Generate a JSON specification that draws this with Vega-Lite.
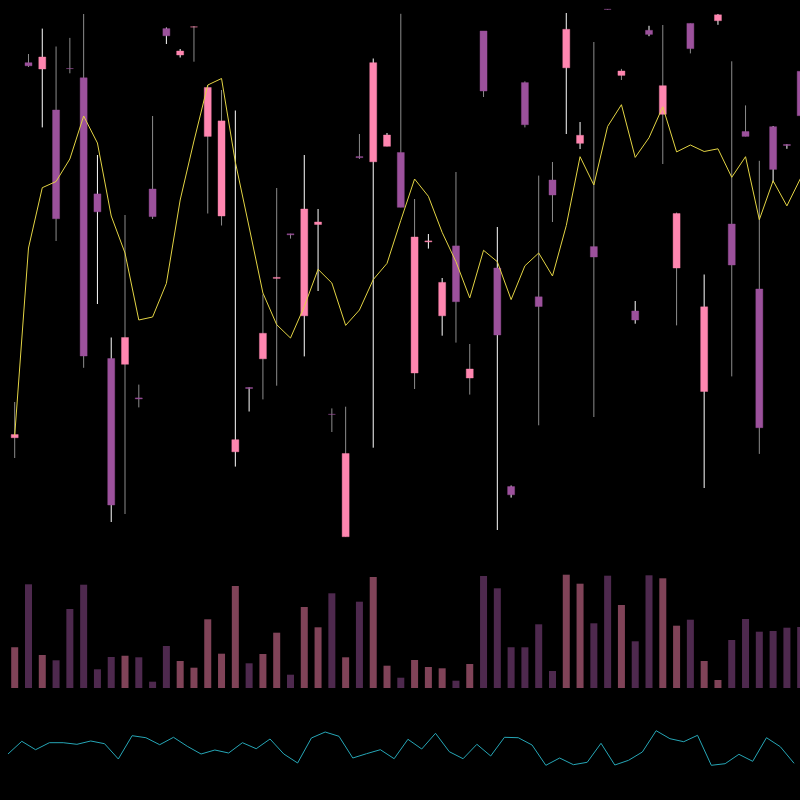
{
  "$schema": "https://vega.github.io/schema/vega-lite/v6.json",
  "background": "#000000",
  "padding": 0,
  "spacing": 0,
  "config": {"view": {"stroke": null}},
  "datasets": {
    "bars": [
      {"i":1,"date":"2021-11-23","open":106.23,"high":109.8,"low":104.2,"close":106.54,"ma":106.44,"volume":407000,"osc":41.07},
      {"i":2,"date":"2021-11-24","open":143.73,"high":144.6,"low":143.3,"close":143.42,"ma":125.2,"volume":1037000,"osc":52.41},
      {"i":3,"date":"2021-11-26","open":143.1,"high":147.14,"low":137.26,"close":144.3,"ma":131.23,"volume":330000,"osc":44.91},
      {"i":4,"date":"2021-11-29","open":139.0,"high":145.35,"low":125.9,"close":128.13,"ma":131.85,"volume":277000,"osc":51.16},
      {"i":5,"date":"2021-11-30","open":143.15,"high":146.21,"low":142.67,"close":143.14,"ma":134.1,"volume":790000,"osc":51.16},
      {"i":6,"date":"2021-12-01","open":142.22,"high":148.6,"low":113.22,"close":114.4,"ma":138.4,"volume":1033000,"osc":49.73},
      {"i":7,"date":"2021-12-02","open":130.61,"high":134.5,"low":119.6,"close":128.82,"ma":135.7,"volume":187000,"osc":52.68},
      {"i":8,"date":"2021-12-03","open":114.15,"high":116.25,"low":97.8,"close":99.5,"ma":128.4,"volume":310000,"osc":50.27},
      {"i":9,"date":"2021-12-06","open":113.57,"high":128.5,"low":98.6,"close":116.25,"ma":124.7,"volume":323000,"osc":36.61},
      {"i":10,"date":"2021-12-07","open":110.21,"high":111.54,"low":109.26,"close":110.11,"ma":118.0,"volume":307000,"osc":57.41},
      {"i":11,"date":"2021-12-08","open":131.1,"high":138.4,"low":128.1,"close":128.34,"ma":118.3,"volume":63000,"osc":55.62},
      {"i":12,"date":"2021-12-09","open":147.14,"high":147.25,"low":145.6,"close":146.42,"ma":121.66,"volume":420000,"osc":49.37},
      {"i":13,"date":"2021-12-10","open":144.5,"high":145.1,"low":144.25,"close":144.9,"ma":130.0,"volume":270000,"osc":55.98},
      {"i":14,"date":"2021-12-13","open":147.3,"high":147.4,"low":143.83,"close":147.31,"ma":135.9,"volume":203000,"osc":47.95},
      {"i":15,"date":"2021-12-14","open":136.36,"high":141.5,"low":128.65,"close":141.25,"ma":141.5,"volume":687000,"osc":41.07},
      {"i":16,"date":"2021-12-15","open":128.4,"high":141.0,"low":127.45,"close":137.91,"ma":142.15,"volume":343000,"osc":44.64},
      {"i":17,"date":"2021-12-16","open":104.82,"high":138.95,"low":103.34,"close":106.03,"ma":133.8,"volume":1020000,"osc":41.96},
      {"i":18,"date":"2021-12-17","open":111.25,"high":111.26,"low":108.85,"close":111.15,"ma":127.3,"volume":247000,"osc":51.16},
      {"i":19,"date":"2021-12-20","open":114.12,"high":120.56,"low":110.06,"close":116.67,"ma":120.7,"volume":340000,"osc":45.8},
      {"i":20,"date":"2021-12-21","open":122.16,"high":131.2,"low":111.43,"close":122.26,"ma":117.53,"volume":553000,"osc":54.46},
      {"i":21,"date":"2021-12-22","open":126.62,"high":126.63,"low":126.14,"close":126.52,"ma":116.2,"volume":133000,"osc":41.07},
      {"i":22,"date":"2021-12-23","open":118.42,"high":134.5,"low":114.36,"close":129.1,"ma":119.35,"volume":810000,"osc":33.04},
      {"i":23,"date":"2021-12-24","open":127.55,"high":129.1,"low":120.9,"close":127.8,"ma":123.07,"volume":607000,"osc":55.36},
      {"i":24,"date":"2021-12-27","open":108.57,"high":109.16,"low":106.8,"close":108.56,"ma":121.7,"volume":947000,"osc":60.71},
      {"i":25,"date":"2021-12-28","open":96.33,"high":109.33,"low":96.33,"close":104.65,"ma":117.46,"volume":307000,"osc":56.87},
      {"i":26,"date":"2021-12-29","open":134.34,"high":136.6,"low":134.1,"close":134.24,"ma":119.0,"volume":863000,"osc":37.5},
      {"i":27,"date":"2021-12-30","open":133.82,"high":144.15,"low":105.23,"close":143.73,"ma":122.04,"volume":1110000,"osc":41.34},
      {"i":28,"date":"2021-12-31","open":135.37,"high":136.7,"low":135.37,"close":136.5,"ma":123.66,"volume":223000,"osc":44.91},
      {"i":29,"date":"2022-01-03","open":134.75,"high":148.62,"low":129.27,"close":129.27,"ma":127.96,"volume":103000,"osc":36.87},
      {"i":30,"date":"2022-01-04","open":112.7,"high":130.1,"low":111.1,"close":126.3,"ma":132.1,"volume":280000,"osc":54.2},
      {"i":31,"date":"2022-01-06","open":125.81,"high":126.6,"low":125.14,"close":125.91,"ma":130.37,"volume":210000,"osc":45.54},
      {"i":32,"date":"2022-01-07","open":118.42,"high":122.2,"low":116.43,"close":121.76,"ma":126.76,"volume":197000,"osc":59.55},
      {"i":33,"date":"2022-01-10","open":125.41,"high":132.8,"low":115.74,"close":119.83,"ma":123.83,"volume":73000,"osc":43.12},
      {"i":34,"date":"2022-01-11","open":112.2,"high":115.6,"low":110.54,"close":113.1,"ma":120.21,"volume":240000,"osc":36.87},
      {"i":35,"date":"2022-01-12","open":146.9,"high":146.9,"low":140.3,"close":140.9,"ma":124.97,"volume":1120000,"osc":49.73},
      {"i":36,"date":"2022-01-13","open":123.2,"high":127.3,"low":97.0,"close":116.5,"ma":123.83,"volume":997000,"osc":39.29},
      {"i":37,"date":"2022-01-14","open":101.34,"high":101.45,"low":100.24,"close":100.52,"ma":120.04,"volume":407000,"osc":55.98},
      {"i":38,"date":"2022-01-17","open":141.74,"high":141.87,"low":137.26,"close":137.53,"ma":123.42,"volume":407000,"osc":55.62},
      {"i":39,"date":"2022-01-18","open":120.32,"high":132.44,"low":107.47,"close":119.35,"ma":124.7,"volume":637000,"osc":49.11},
      {"i":40,"date":"2022-01-19","open":132.0,"high":133.8,"low":127.8,"close":130.5,"ma":122.4,"volume":170000,"osc":30.98},
      {"i":41,"date":"2022-01-20","open":143.22,"high":148.7,"low":136.6,"close":147.07,"ma":127.44,"volume":1133000,"osc":37.5},
      {"i":42,"date":"2022-01-21","open":135.67,"high":137.8,"low":135.1,"close":136.47,"ma":134.33,"volume":1043000,"osc":31.52},
      {"i":43,"date":"2022-01-24","open":125.34,"high":145.8,"low":108.3,"close":124.3,"ma":131.5,"volume":647000,"osc":33.66},
      {"i":44,"date":"2022-01-25","open":149.07,"high":149.1,"low":149.04,"close":149.06,"ma":137.36,"volume":1123000,"osc":50.62},
      {"i":45,"date":"2022-01-26","open":142.46,"high":143.11,"low":142.0,"close":142.9,"ma":139.53,"volume":830000,"osc":31.25},
      {"i":46,"date":"2022-01-27","open":118.9,"high":119.9,"low":117.63,"close":118.0,"ma":134.26,"volume":467000,"osc":35.45},
      {"i":47,"date":"2022-01-28","open":146.97,"high":147.42,"low":146.38,"close":146.56,"ma":136.23,"volume":1127000,"osc":42.86},
      {"i":48,"date":"2022-01-31","open":138.57,"high":147.5,"low":133.6,"close":141.43,"ma":139.32,"volume":1097000,"osc":61.87},
      {"i":49,"date":"2022-02-01","open":123.2,"high":128.75,"low":117.46,"close":128.65,"ma":134.81,"volume":623000,"osc":54.73},
      {"i":50,"date":"2022-02-02","open":147.66,"high":147.66,"low":144.66,"close":145.14,"ma":135.5,"volume":683000,"osc":52.05},
      {"i":51,"date":"2022-02-03","open":110.85,"high":122.55,"low":101.2,"close":119.32,"ma":134.85,"volume":270000,"osc":57.77},
      {"i":52,"date":"2022-02-04","open":147.93,"high":148.6,"low":147.52,"close":148.52,"ma":135.12,"volume":80000,"osc":30.98},
      {"i":53,"date":"2022-02-07","open":127.6,"high":143.87,"low":112.36,"close":123.5,"ma":132.27,"volume":480000,"osc":32.41},
      {"i":54,"date":"2022-02-08","open":136.85,"high":139.46,"low":136.36,"close":136.36,"ma":134.33,"volume":690000,"osc":40.8},
      {"i":55,"date":"2022-02-09","open":121.1,"high":133.92,"low":104.61,"close":107.23,"ma":128.03,"volume":563000,"osc":34.55},
      {"i":56,"date":"2022-02-10","open":137.33,"high":137.4,"low":131.75,"close":133.06,"ma":131.92,"volume":570000,"osc":55.62},
      {"i":57,"date":"2022-02-11","open":135.55,"high":135.57,"low":135.12,"close":135.45,"ma":129.41,"volume":603000,"osc":47.59},
      {"i":58,"date":"2022-02-14","open":142.87,"high":143.1,"low":137.9,"close":138.43,"ma":132.2,"volume":610000,"osc":32.77}
    ]
  },
  "data": {"name": "bars"},
  "resolve": {"scale": {"x": "independent", "y": "independent"}},
  "vconcat": [
    {
      "width": 800,
      "height": 545,
      "layer": [
        {
          "mark": {"type": "rule", "strokeWidth": 1, "clip": true},
          "encoding": {
            "x": {"field": "i", "type": "quantitative", "scale": {"domain": [-0.066, 57.95], "zero": false, "nice": false, "padding": 0}, "axis": null},
            "y": {"field": "low", "type": "quantitative", "scale": {"domain": [95.5, 150], "zero": false, "nice": false, "padding": 0}, "axis": null},
            "y2": {"field": "high"},
            "color": {"condition": {"test": "utcday(datum.date) >= 4", "value": "#ffffff"}, "value": "#8c8c8c"}
          }
        },
        {
          "mark": {"type": "bar", "size": 7, "strokeWidth": 1, "strokeOpacity": 0.4, "clip": true},
          "encoding": {
            "x": {"field": "i", "type": "quantitative"},
            "y": {"field": "open", "type": "quantitative"},
            "y2": {"field": "close"},
            "fill": {"condition": {"test": "datum.close > datum.open", "value": "#ff86b0"}, "value": "#9c519c"},
            "stroke": {"condition": {"test": "datum.close > datum.open", "value": "#ff86b0"}, "value": "#9c519c"}
          }
        },
        {
          "mark": {"type": "line", "color": "#e3d444", "strokeWidth": 1, "clip": true},
          "encoding": {
            "x": {"field": "i", "type": "quantitative"},
            "y": {"field": "ma", "type": "quantitative"}
          }
        }
      ]
    },
    {
      "width": 800,
      "height": 143,
      "mark": {"type": "bar", "size": 7, "opacity": 0.5, "clip": true},
      "encoding": {
        "x": {"field": "i", "type": "quantitative", "scale": {"domain": [-0.066, 57.95], "zero": false, "nice": false, "padding": 0}, "axis": null},
        "y": {"field": "volume", "type": "quantitative", "scale": {"domain": [0, 1430000], "nice": false, "padding": 0}, "axis": null},
        "color": {"condition": {"test": "datum.close > datum.open", "value": "#ff86b0"}, "value": "#9c519c"}
      }
    },
    {
      "width": 800,
      "height": 112,
      "mark": {"type": "line", "color": "#26a6b6", "strokeWidth": 1},
      "encoding": {
        "x": {"field": "i", "type": "quantitative", "scale": {"domain": [0.42, 58.43], "zero": false, "nice": false}, "axis": null},
        "y": {"field": "osc", "type": "quantitative", "scale": {"domain": [0, 100], "nice": false}, "axis": null}
      }
    }
  ]
}
